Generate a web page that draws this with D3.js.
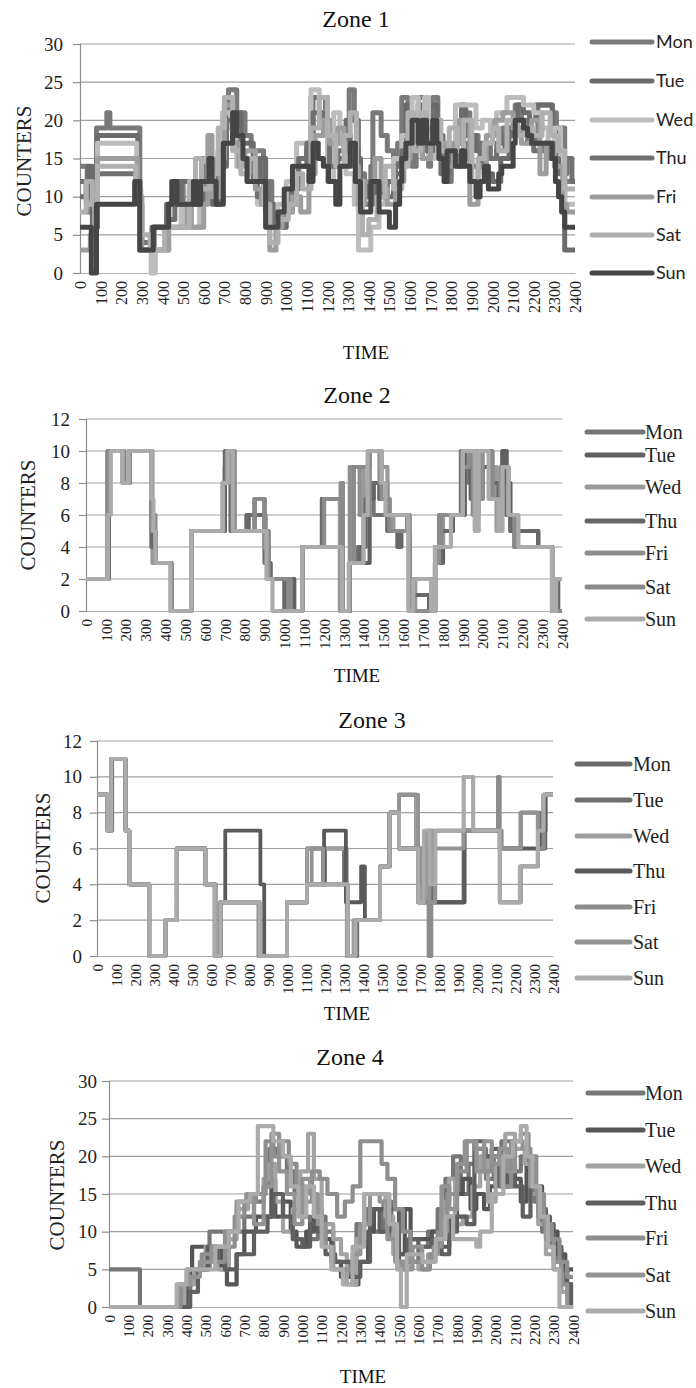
<!DOCTYPE html>
<html>
<head>
<meta charset="utf-8">
<script src="https://cdn.jsdelivr.net/npm/d3@7"></script>
<style>
  html, body { margin: 0; padding: 0; background: #fff; }
  svg { display: block; }
</style>
</head>
<body>
<svg id="chart" width="696" height="1388"></svg>
<script>
// ---- Data -------------------------------------------------------------
// Each series is a list of [hour, counters] change points (step-after).
const days = ["Mon", "Tue", "Wed", "Thu", "Fri", "Sat", "Sun"];
const timeLabels = ["0","100","200","300","400","500","600","700","800","900","1000","1100","1200",
  "1300","1400","1500","1600","1700","1800","1900","2000","2100","2200","2300","2400"];
const zoneTitles = ["Zone 1", "Zone 2", "Zone 3", "Zone 4"];
const yTicksZone1 = [0, 5, 10, 15, 20, 25, 30];
const yTicksZone2 = [0, 2, 4, 6, 8, 10, 12];
const yTicksZone3 = [0, 2, 4, 6, 8, 10, 12];
const yTicksZone4 = [0, 5, 10, 15, 20, 25, 30];

// Zone 1
const zone1Mon = [[0,14],[0.35,8],[0.6,12],[0.8,19],[1.3,21],[1.45,19],[2.9,3],[3.6,6],[4.3,9],[4.6,12],[5.0,9],[5.6,12],[5.9,15],[6.3,12],[6.8,17],[7.0,21],[7.2,24],[7.6,21],[8.0,18],[8.3,16],[8.9,9],[9.1,12],[9.3,6],[9.7,8],[10.1,11],[10.6,15],[11.0,17],[11.3,23],[11.9,20],[12.1,17],[13.05,24],[13.3,20],[13.5,13],[13.8,10],[14.1,14],[14.2,21],[14.6,18],[14.9,16],[15.2,14],[15.4,17],[15.6,23],[15.9,20],[16.1,14],[16.3,20],[16.4,23],[16.7,18],[16.9,14],[17.0,19],[17.1,23],[17.35,17],[17.6,14],[17.8,12],[18.0,16],[18.3,14],[18.6,21],[18.9,18],[19.3,16],[19.6,17],[19.9,15],[20.2,17],[20.5,19],[21.1,22],[21.4,20],[21.7,17],[22.2,22],[22.9,21],[23.1,19],[23.5,12],[24,12]];
const zone1Tue = [[0,10],[0.4,14],[0.6,6],[0.85,18],[2.8,12],[2.9,3],[3.5,6],[4.2,9],[4.9,12],[5.4,9],[6.0,12],[6.4,9],[6.8,14],[7.1,21],[7.8,17],[8.4,12],[8.7,15],[9.0,9],[9.4,6],[10.0,9],[10.5,14],[11.0,16],[11.2,23],[12.0,17],[12.3,15],[12.9,20],[13.4,15],[13.6,12],[13.9,10],[14.3,12],[14.8,10],[15.2,13],[15.6,17],[15.8,22],[16.0,17],[16.4,22],[16.6,15],[17.0,22],[17.3,18],[17.6,14],[17.9,16],[18.3,19],[18.5,22],[18.7,18],[19.2,16],[19.6,13],[20.0,12],[20.4,15],[20.8,19],[21.2,22],[21.5,21],[21.8,20],[22.1,22],[22.9,19],[23.2,15],[23.5,3],[24,3]];
const zone1Wed = [[0,12],[0.3,9],[0.7,11],[0.85,17],[2.75,11],[2.9,3],[3.45,0],[3.65,3],[4.3,6],[4.9,9],[5.1,6],[5.8,9],[6.1,15],[6.3,12],[6.6,15],[6.9,21],[7.3,19],[7.6,14],[8.1,12],[8.6,9],[9.1,6],[9.6,9],[10.0,12],[10.5,17],[11.2,24],[11.6,21],[12.0,12],[12.3,21],[12.6,17],[12.9,13],[13.3,9],[13.5,3],[14.1,6],[14.5,9],[14.8,12],[15.2,15],[15.6,18],[16.1,23],[16.4,17],[16.7,23],[16.9,15],[17.2,17],[17.5,15],[17.8,17],[18.2,22],[19.2,19],[19.5,20],[19.9,18],[20.2,21],[20.7,23],[21.5,22],[22.0,21],[22.4,19],[22.7,16],[23.0,19],[23.3,13],[23.5,9],[24,9]];
const zone1Thu = [[0,12],[0.3,10],[0.7,8],[0.8,13],[2.8,9],[3.0,4],[3.5,6],[4.2,7],[4.6,9],[5.3,11],[5.7,9],[6.0,14],[6.3,12],[6.7,16],[7.1,20],[7.5,18],[7.8,15],[8.2,13],[8.6,10],[9.0,8],[9.4,6],[9.9,8],[10.3,12],[10.6,15],[11.0,17],[11.3,21],[11.8,19],[12.1,14],[12.5,16],[12.8,18],[13.1,16],[13.5,12],[13.8,9],[14.2,12],[14.6,10],[14.9,12],[15.3,14],[15.6,16],[15.9,19],[16.2,17],[16.5,19],[16.8,16],[17.1,18],[17.5,13],[17.9,15],[18.3,17],[18.7,15],[19.0,14],[19.4,17],[19.8,15],[20.2,16],[20.6,18],[21.0,20],[21.5,18],[22.0,16],[22.5,17],[22.8,15],[23.2,13],[23.6,15],[23.85,12],[24,12]];
const zone1Fri = [[0,3],[0.5,5],[0.7,9],[0.85,15],[2.8,10],[3.0,3],[4.3,6],[5.2,9],[5.4,6],[6.0,9],[6.2,18],[6.4,10],[6.8,15],[7.0,22],[7.4,17],[7.7,14],[8.0,16],[8.5,11],[8.8,9],[9.2,3],[9.5,6],[9.8,8],[10.3,10],[10.7,8],[11.1,13],[11.4,18],[11.8,20],[12.1,17],[12.5,19],[12.8,16],[13.2,14],[13.5,9],[13.8,12],[14.3,15],[14.6,11],[14.9,9],[15.3,12],[15.7,15],[16.0,20],[16.3,18],[16.6,15],[17.0,19],[17.4,17],[17.8,14],[18.1,17],[18.4,20],[18.9,9],[19.3,14],[19.7,18],[20.1,20],[20.5,21],[21.0,19],[21.4,17],[21.9,20],[22.3,13],[22.6,17],[23.0,14],[23.4,9],[23.6,8],[24,8]];
const zone1Sat = [[0,8],[0.3,12],[0.6,9],[0.85,14],[2.7,11],[2.95,5],[3.4,3],[4.1,6],[5.3,12],[5.6,15],[5.9,11],[6.3,13],[6.7,19],[7.0,23],[7.4,16],[7.8,13],[8.2,15],[8.5,12],[8.9,9],[9.2,4],[9.6,7],[10.1,9],[10.5,13],[10.8,11],[11.2,19],[11.6,23],[12.0,18],[12.4,14],[12.8,18],[13.1,21],[13.4,12],[13.7,5],[14.0,7],[14.4,10],[14.8,14],[15.2,11],[15.6,14],[15.9,21],[16.2,16],[16.5,21],[16.8,18],[17.2,20],[17.5,16],[17.9,19],[18.3,16],[18.6,20],[19.0,12],[19.3,15],[19.6,17],[20.0,19],[20.3,16],[20.7,20],[21.2,18],[21.6,19],[22.0,18],[22.4,21],[22.8,18],[23.2,16],[23.5,11],[24,11]];
const zone1Sun = [[0,6],[0.55,0],[0.8,9],[2.65,12],[2.9,3],[3.55,6],[4.3,9],[4.45,12],[4.7,9],[5.5,12],[5.65,9],[5.85,12],[6.25,15],[6.4,12],[6.6,9],[6.95,17],[7.4,21],[7.6,18],[7.9,15],[8.1,12],[9.0,6],[9.6,8],[9.9,11],[10.3,14],[11.1,12],[11.3,17],[11.55,15],[11.8,14],[12.05,12],[12.4,9],[12.6,14],[13.1,17],[13.35,12],[13.6,8],[14.1,12],[14.5,8],[15.0,6],[15.3,9],[15.5,12],[15.6,15],[15.8,17],[16.1,20],[16.4,17],[16.6,20],[16.8,17],[17.1,20],[17.3,17],[17.4,15],[17.65,12],[17.8,16],[18.2,14],[18.5,16],[18.65,14],[18.9,12],[19.2,10],[19.4,12],[19.6,14],[19.8,11],[20.3,13],[20.45,14],[21.0,17],[21.1,20],[21.5,19],[21.7,18],[21.9,17],[22.9,15],[23.05,12],[23.2,10],[23.35,8],[23.5,6],[24,6]];

// Zone 2
const zone2Mon = [[0,2],[1.1,10],[1.85,8],[2.15,10],[3.3,6],[3.45,3],[4.3,0],[5.3,5],[6.95,8],[7.2,10],[7.45,5],[8.1,6],[9.0,3],[9.3,2],[10.1,0],[10.9,4],[12.85,8],[12.95,0],[13.3,3],[13.7,4],[14.0,8],[14.5,6],[15.2,5],[16.3,0],[17.6,4],[17.9,6],[18.9,10],[19.3,8],[19.9,10],[20.4,7],[21.0,10],[21.2,6],[21.6,4],[23.5,0],[23.8,2],[24,2]];
const zone2Tue = [[0,2],[1.15,10],[1.9,8],[2.2,10],[3.3,5],[3.5,3],[4.3,0],[5.3,5],[7.0,9],[7.3,5],[8.2,6],[9.0,5],[9.2,2],[10.5,0],[10.9,4],[11.9,7],[12.9,0],[13.3,3],[14.3,7],[14.5,8],[14.8,7],[15.3,5],[16.2,6],[16.3,0],[16.5,1],[17.3,0],[17.6,3],[18.0,5],[18.5,6],[19.1,10],[19.4,7],[20.0,9],[20.5,7],[21.0,10],[21.2,8],[21.4,5],[22.8,4],[23.5,0],[24,0]];
const zone2Wed = [[0,2],[1.1,10],[1.9,8],[2.15,10],[3.35,3],[4.3,0],[5.3,5],[6.9,8],[7.2,10],[7.45,5],[8.5,7],[9.0,5],[9.15,2],[10.3,0],[10.9,4],[11.9,7],[12.8,0],[13.3,3],[13.5,9],[14.0,6],[14.3,10],[14.9,9],[15.2,6],[15.5,5],[16.2,6],[16.3,0],[16.6,2],[17.4,0],[17.6,4],[18.0,6],[19.0,10],[19.6,6],[19.8,10],[20.4,9],[20.7,5],[20.9,7],[21.3,6],[21.6,4],[23.5,0],[23.8,2],[24,2]];
const zone2Thu = [[0,2],[1.1,10],[1.9,8],[2.2,10],[3.3,4],[3.5,3],[4.3,0],[5.3,5],[7.0,10],[7.3,5],[8.1,6],[9.05,3],[9.3,2],[10.0,0],[10.9,4],[11.9,7],[12.9,0],[13.3,3],[13.8,4],[14.1,7],[14.4,8],[14.8,7],[15.2,5],[15.7,4],[15.9,5],[16.3,0],[16.5,1],[17.3,0],[17.6,3],[17.9,5],[18.5,6],[19.0,10],[19.6,8],[19.9,10],[20.4,8],[20.8,7],[21.2,6],[21.4,5],[22.8,4],[23.5,0],[23.8,2],[24,2]];
const zone2Fri = [[0,2],[1.1,10],[1.85,8],[2.2,10],[3.3,5],[3.5,3],[4.3,0],[5.3,5],[6.9,8],[7.2,10],[7.5,5],[8.5,7],[9.0,4],[9.2,2],[10.3,0],[10.9,4],[12.0,7],[12.85,8],[12.95,0],[13.3,9],[13.8,6],[14.3,10],[14.8,8],[15.2,6],[16.3,0],[17.6,3],[17.8,6],[19.0,9],[19.3,10],[19.7,7],[20.0,10],[20.4,7],[20.9,9],[21.3,6],[21.7,4],[23.5,0],[24,0]];
const zone2Sat = [[0,2],[1.1,10],[1.9,8],[2.2,10],[3.3,6],[3.5,3],[4.3,0],[5.3,5],[6.9,8],[7.1,10],[7.45,5],[8.5,7],[9.0,5],[9.2,2],[10.2,0],[10.9,4],[12.0,7],[12.9,0],[13.3,3],[13.5,9],[14.3,10],[14.9,7],[15.3,5],[16.2,6],[16.3,0],[16.5,2],[17.5,0],[17.6,4],[17.9,6],[19.0,10],[19.5,6],[19.8,10],[20.5,7],[21.0,9],[21.3,6],[21.6,4],[23.5,0],[23.7,2],[24,2]];
const zone2Sun = [[0,2],[1.1,6],[1.25,10],[1.85,8],[2.15,10],[3.3,7],[3.4,5],[3.5,3],[4.25,0],[5.3,5],[6.9,8],[7.15,10],[7.4,5],[9.1,2],[9.4,0],[10.9,4],[12.9,0],[13.25,3],[14.0,6],[14.2,10],[14.9,8],[15.1,6],[16.25,0],[16.5,2],[17.4,0],[17.6,4],[18.4,6],[19.0,10],[19.6,5],[19.8,10],[20.3,7],[20.8,5],[21.0,9],[21.3,6],[21.8,4],[23.5,0],[23.7,2],[24,2]];

// Zone 3
const zone3Mon = [[0,9],[0.55,7],[0.75,11],[1.5,7],[1.7,4],[2.75,0],[3.6,2],[4.2,6],[5.7,4],[6.2,0],[6.5,3],[8.55,0],[10.0,3],[11.05,6],[11.9,4],[13.15,0],[13.6,2],[14.9,5],[15.4,8],[15.9,6],[16.9,3],[17.3,6],[17.6,3],[19.3,7],[21.1,7],[21.2,3],[22.3,5],[23.2,6],[23.6,9],[24,9]];
const zone3Tue = [[0,9],[0.6,7],[0.8,11],[1.5,7],[1.7,4],[2.75,0],[3.6,2],[4.2,6],[5.7,4],[6.25,0],[6.5,3],[8.5,0],[10.0,3],[11.05,4],[12.0,6],[13.0,4],[13.2,0],[13.7,2],[14.9,5],[15.4,8],[15.9,9],[16.8,6],[17.0,4],[17.3,7],[17.7,3],[19.3,7],[21.2,6],[22.3,8],[23.3,7],[23.6,9],[24,9]];
const zone3Wed = [[0,9],[0.55,7],[0.75,11],[1.5,7],[1.7,4],[2.75,0],[3.6,2],[4.2,6],[5.7,4],[6.2,0],[6.5,3],[8.55,0],[10.0,3],[11.05,6],[13.15,0],[13.5,2],[14.9,5],[15.4,8],[15.9,9],[16.8,6],[17.1,3],[17.4,7],[17.6,4],[17.8,7],[19.3,10],[19.8,7],[21.2,3],[22.3,5],[23.2,6],[23.5,9],[24,9]];
const zone3Thu = [[0,9],[0.55,7],[0.75,11],[1.5,7],[1.7,4],[2.75,0],[3.6,2],[4.2,6],[5.7,4],[6.2,0],[6.5,3],[6.75,7],[8.6,4],[8.8,0],[10.0,3],[11.05,4],[11.95,7],[13.1,3],[13.9,5],[14.1,2],[14.9,5],[15.4,8],[15.9,6],[16.9,3],[19.35,7],[21.2,6],[22.3,6],[23.4,7],[23.6,9],[24,9]];
const zone3Fri = [[0,9],[0.55,7],[0.75,11],[1.5,7],[1.7,4],[2.75,0],[3.6,2],[4.2,6],[5.7,4],[6.2,0],[6.5,3],[8.55,0],[10.0,3],[11.05,4],[13.2,0],[13.6,2],[14.9,5],[15.4,8],[15.9,6],[16.9,3],[17.45,0],[17.6,3],[17.8,7],[21.1,10],[21.2,7],[21.3,6],[22.3,8],[23.2,6],[23.5,9],[24,9]];
const zone3Sat = [[0,9],[0.55,7],[0.75,11],[1.5,7],[1.7,4],[2.75,0],[3.6,2],[4.2,6],[5.7,4],[6.2,0],[6.5,3],[8.55,0],[10.0,3],[11.05,4],[11.3,6],[11.9,4],[13.2,0],[13.6,2],[14.9,5],[15.4,8],[15.9,9],[16.9,6],[17.1,4],[17.3,6],[17.5,3],[17.8,6],[19.3,7],[21.2,6],[22.3,8],[23.2,7],[23.5,9],[24,9]];
const zone3Sun = [[0,9],[0.55,7],[0.75,11],[1.5,7],[1.7,4],[2.75,0],[3.6,2],[4.2,6],[5.7,4],[6.2,0],[6.5,3],[8.55,0],[10.0,3],[11.05,4],[13.2,0],[13.6,2],[14.9,5],[15.4,8],[15.9,6],[16.9,3],[17.2,7],[17.5,4],[17.8,7],[19.3,10],[19.8,7],[21.2,3],[22.25,5],[23.2,7],[23.5,9],[24,9]];

// Zone 4
const zone4Mon = [[0,5],[1.6,0],[3.8,2],[4.2,5],[5.2,10],[7.0,12],[7.5,14],[8.0,16],[8.3,21],[8.7,20],[9.2,18],[9.6,15],[10.0,12],[10.4,9],[10.8,12],[11.2,10],[11.6,6],[12.0,4],[12.4,6],[12.8,11],[13.3,13],[13.7,10],[14.2,14],[14.6,9],[15.0,7],[15.5,6],[16.0,8],[16.5,10],[17.0,13],[17.4,17],[17.8,20],[18.2,15],[18.6,19],[19.0,21],[19.5,17],[19.9,20],[20.3,22],[20.8,18],[21.3,20],[21.7,18],[22.0,14],[22.4,10],[22.8,8],[23.2,6],[23.6,3],[24,3]];
const zone4Tue = [[0,0],[4.0,3],[4.3,8],[5.8,5],[6.1,3],[6.6,7],[7.0,10],[7.6,12],[8.4,17],[8.6,12],[9.0,14],[9.4,10],[9.7,8],[10.2,10],[10.6,13],[11.0,9],[11.5,6],[12.0,4],[12.6,3],[12.9,6],[13.4,10],[13.7,13],[14.5,11],[14.8,7],[15.3,13],[15.6,9],[16.7,10],[17.2,8],[17.6,12],[18.0,15],[18.3,17],[18.7,13],[19.0,15],[19.4,13],[19.7,16],[20.0,18],[20.5,16],[20.9,17],[21.3,14],[21.6,19],[22.0,16],[22.4,12],[22.8,10],[23.2,7],[23.6,5],[24,5]];
const zone4Wed = [[0,0],[3.9,3],[4.4,5],[5.0,8],[5.6,5],[6.2,9],[6.6,13],[7.2,15],[8.0,17],[8.3,19],[8.6,14],[9.0,10],[9.5,13],[9.9,18],[10.3,23],[10.6,17],[11.0,11],[11.6,9],[12.0,7],[12.3,3],[12.8,9],[13.2,15],[14.3,12],[14.7,7],[15.0,5],[15.5,6],[16.0,5],[16.5,7],[17.0,9],[17.3,14],[17.6,17],[17.9,11],[18.3,12],[18.8,16],[19.2,20],[19.6,14],[20.0,19],[20.5,23],[21.0,21],[21.5,19],[21.8,15],[22.2,11],[22.6,7],[23.0,5],[23.4,2],[23.8,0],[24,0]];
const zone4Thu = [[0,0],[4.2,2],[4.6,5],[5.1,8],[5.6,6],[6.0,5],[6.6,7],[7.5,10],[8.2,12],[8.5,15],[9.0,12],[9.5,9],[10.0,8],[10.4,11],[10.8,10],[11.2,7],[11.7,6],[12.6,4],[13.0,6],[13.5,13],[14.0,10],[14.5,13],[15.0,6],[15.5,9],[16.0,8],[16.7,9],[17.2,7],[17.6,10],[18.0,12],[18.5,11],[18.9,22],[19.4,20],[19.8,21],[20.2,16],[20.6,19],[21.0,16],[21.4,12],[21.8,16],[22.2,13],[22.6,11],[23.0,8],[23.4,5],[23.7,3],[23.9,0],[24,0]];
const zone4Fri = [[0,0],[3.7,3],[4.1,5],[4.8,7],[5.4,6],[6.0,8],[6.5,12],[7.0,14],[7.6,15],[8.1,22],[8.5,20],[8.9,22],[9.3,19],[9.7,16],[10.1,14],[10.5,18],[10.9,17],[11.3,15],[11.8,12],[12.2,14],[12.6,16],[13.0,22],[14.1,19],[14.4,17],[14.8,13],[15.2,10],[15.6,6],[16.2,5],[16.6,7],[17.0,10],[17.5,15],[18.0,18],[18.5,22],[18.9,21],[19.4,18],[19.8,20],[20.3,16],[20.8,22],[21.3,23],[21.7,20],[22.1,15],[22.5,11],[22.9,9],[23.3,6],[23.7,4],[24,4]];
const zone4Sat = [[0,0],[3.6,3],[4.2,4],[4.7,6],[5.3,8],[6.0,10],[6.6,14],[7.1,15],[7.5,11],[8.0,16],[8.4,23],[8.8,18],[9.2,15],[9.6,11],[10.0,17],[10.4,15],[10.8,11],[11.2,8],[11.6,5],[12.6,7],[13.0,11],[13.5,15],[14.0,14],[14.4,9],[14.8,6],[15.2,5],[15.7,8],[16.2,6],[16.8,8],[17.2,16],[17.6,13],[18.0,19],[18.4,22],[19.0,18],[19.4,22],[19.8,19],[20.2,21],[20.6,18],[21.0,22],[21.4,21],[21.8,16],[22.2,12],[22.6,9],[23.0,6],[23.4,3],[23.7,0],[24,0]];
const zone4Sun = [[0,0],[3.5,3],[4.0,5],[5.5,8],[6.2,10],[6.7,14],[7.3,15],[7.7,24],[8.5,22],[9.0,20],[9.4,16],[9.8,12],[10.2,16],[10.6,12],[11.0,8],[11.5,5],[12.1,3],[12.6,8],[13.2,15],[14.5,11],[14.9,5],[15.1,0],[15.4,7],[16.2,6],[16.9,9],[17.4,12],[17.8,9],[19.0,8],[19.2,10],[19.8,15],[20.4,20],[20.9,22],[21.3,24],[21.6,20],[21.9,16],[22.3,12],[22.7,8],[23.0,5],[23.3,0],[24,0]];

// ---- Panels -----------------------------------------------------------
const panels = [
  {
    title: zoneTitles[0], series: [zone1Mon, zone1Tue, zone1Wed, zone1Thu, zone1Fri, zone1Sat, zone1Sun],
    yTicks: yTicksZone1,
    colors: ["#7a7a7a", "#6b6b6b", "#bdbdbd", "#707070", "#9d9d9d", "#b0b0b0", "#454545"],
    plot: { left: 80, right: 575, top: 44, bottom: 273 },
    lineWidth: 5, xFont: 16,
    title_: { x: 356, y: 27 }, yLabel: { x: 24, y: 161 }, xLabel: { x: 366, y: 359 },
    yTickRight: 63,
    legend: { x1: 592, x2: 652, tx: 656, ys: [42, 81, 120, 158, 197, 235, 273], font: "Lato, 'Open Sans', sans-serif", size: 18 }
  },
  {
    title: zoneTitles[1], series: [zone2Mon, zone2Tue, zone2Wed, zone2Thu, zone2Fri, zone2Sat, zone2Sun],
    yTicks: yTicksZone2,
    colors: ["#747474", "#606060", "#9a9a9a", "#686868", "#8e8e8e", "#8a8a8a", "#ababab"],
    plot: { left: 86, right: 562, top: 419, bottom: 611 },
    lineWidth: 4.2, xFont: 15,
    title_: { x: 357, y: 403 }, yLabel: { x: 28, y: 515 }, xLabel: { x: 357, y: 682 },
    yTickRight: 70,
    legend: { x1: 587, x2: 643, tx: 645, ys: [432, 455, 487, 521, 553, 587, 619], font: "'Liberation Serif', 'Times New Roman', serif", size: 20 }
  },
  {
    title: zoneTitles[2], series: [zone3Mon, zone3Tue, zone3Wed, zone3Thu, zone3Fri, zone3Sat, zone3Sun],
    yTicks: yTicksZone3,
    colors: ["#6a6a6a", "#6e6e6e", "#9e9e9e", "#5a5a5a", "#8c8c8c", "#939393", "#ababab"],
    plot: { left: 97, right: 553, top: 741, bottom: 956 },
    lineWidth: 3.8, xFont: 15,
    title_: { x: 372, y: 728 }, yLabel: { x: 43, y: 848 }, xLabel: { x: 347, y: 1020 },
    yTickRight: 82,
    legend: { x1: 577, x2: 630, tx: 633, ys: [764, 800, 836, 871, 907, 942, 978], font: "'Liberation Serif', 'Times New Roman', serif", size: 20 }
  },
  {
    title: zoneTitles[3], series: [zone4Mon, zone4Tue, zone4Wed, zone4Thu, zone4Fri, zone4Sat, zone4Sun],
    yTicks: yTicksZone4,
    colors: ["#767676", "#555555", "#a3a3a3", "#5f5f5f", "#8e8e8e", "#939393", "#ababab"],
    plot: { left: 109, right: 573, top: 1081, bottom: 1307 },
    lineWidth: 4.2, xFont: 15,
    title_: { x: 350, y: 1065 }, yLabel: { x: 57, y: 1195 }, xLabel: { x: 363, y: 1383 },
    yTickRight: 97,
    legend: { x1: 588, x2: 643, tx: 645, ys: [1093, 1130, 1166, 1203, 1238, 1275, 1311], font: "'Liberation Serif', 'Times New Roman', serif", size: 20 }
  }
];

const serif = "'Liberation Serif', 'Times New Roman', serif";
const svg = d3.select("#chart");

panels.forEach(p => {
  const g = svg.append("g");
  const x = d3.scaleLinear().domain([0, timeLabels.length - 1]).range([p.plot.left, p.plot.right]);
  const y = d3.scaleLinear().domain([0, d3.max(p.yTicks)]).range([p.plot.bottom, p.plot.top]);

  // horizontal gridlines
  g.append("g").selectAll("line").data(p.yTicks.filter(v => v > 0)).join("line")
    .attr("x1", p.plot.left).attr("x2", p.plot.right)
    .attr("y1", d => y(d)).attr("y2", d => y(d))
    .attr("stroke", "#9f9f9f").attr("stroke-width", 1.2);

  // y axis with outward ticks
  const yAxis = g.append("g").attr("transform", `translate(${p.plot.left},0)`)
    .call(d3.axisLeft(y).tickValues(p.yTicks).tickSize(7).tickPadding(p.plot.left - p.yTickRight - 7));
  yAxis.select(".domain").attr("stroke", "#8c8c8c").attr("stroke-width", 1.2);
  yAxis.selectAll(".tick line").attr("stroke", "#8c8c8c").attr("stroke-width", 1.2);
  yAxis.selectAll(".tick text").attr("font-family", serif).attr("font-size", 19).attr("fill", "#222");

  // x axis: category labels 0..2400, rotated
  const xAxis = g.append("g").attr("transform", `translate(0,${p.plot.bottom})`)
    .call(d3.axisBottom(x).tickValues(d3.range(timeLabels.length)).tickFormat(i => timeLabels[i]).tickSize(0));
  xAxis.select(".domain").attr("stroke", "#b0b0b0").attr("stroke-width", 1.2);
  xAxis.selectAll(".tick text")
    .attr("font-family", serif).attr("font-size", p.xFont).attr("fill", "#222")
    .attr("transform", "rotate(-90)")
    .attr("text-anchor", "end")
    .attr("x", -8).attr("y", 0).attr("dy", "0.35em");

  // series
  const line = d3.line().x(d => x(d[0])).y(d => y(d[1])).curve(d3.curveStepAfter);
  g.append("g").selectAll("path").data(p.series).join("path")
    .attr("d", line)
    .attr("fill", "none")
    .attr("stroke", (d, i) => p.colors[i])
    .attr("stroke-width", p.lineWidth)
    .attr("stroke-linejoin", "round");

  // titles
  g.append("text").attr("x", p.title_.x).attr("y", p.title_.y)
    .attr("text-anchor", "middle").attr("font-family", serif).attr("font-size", 24).attr("fill", "#111")
    .text(p.title);
  g.append("text").attr("transform", `translate(${p.yLabel.x},${p.yLabel.y}) rotate(-90)`)
    .attr("text-anchor", "middle").attr("dy", "0.35em").attr("font-family", serif).attr("font-size", 21).attr("fill", "#222")
    .text("COUNTERS");
  g.append("text").attr("x", p.xLabel.x).attr("y", p.xLabel.y)
    .attr("text-anchor", "middle").attr("font-family", serif).attr("font-size", 19).attr("fill", "#111")
    .text("TIME");

  // legend
  const lg = g.append("g").selectAll("g").data(days).join("g")
    .attr("transform", (d, i) => `translate(0,${p.legend.ys[i]})`);
  lg.append("line").attr("x1", p.legend.x1).attr("x2", p.legend.x2)
    .attr("stroke", (d, i) => p.colors[i]).attr("stroke-width", 5).attr("stroke-linecap", "round");
  lg.append("text").attr("x", p.legend.tx).attr("dy", "0.35em")
    .attr("font-family", p.legend.font).attr("font-size", p.legend.size).attr("fill", "#222")
    .text(d => d);
});
</script>
</body>
</html>
